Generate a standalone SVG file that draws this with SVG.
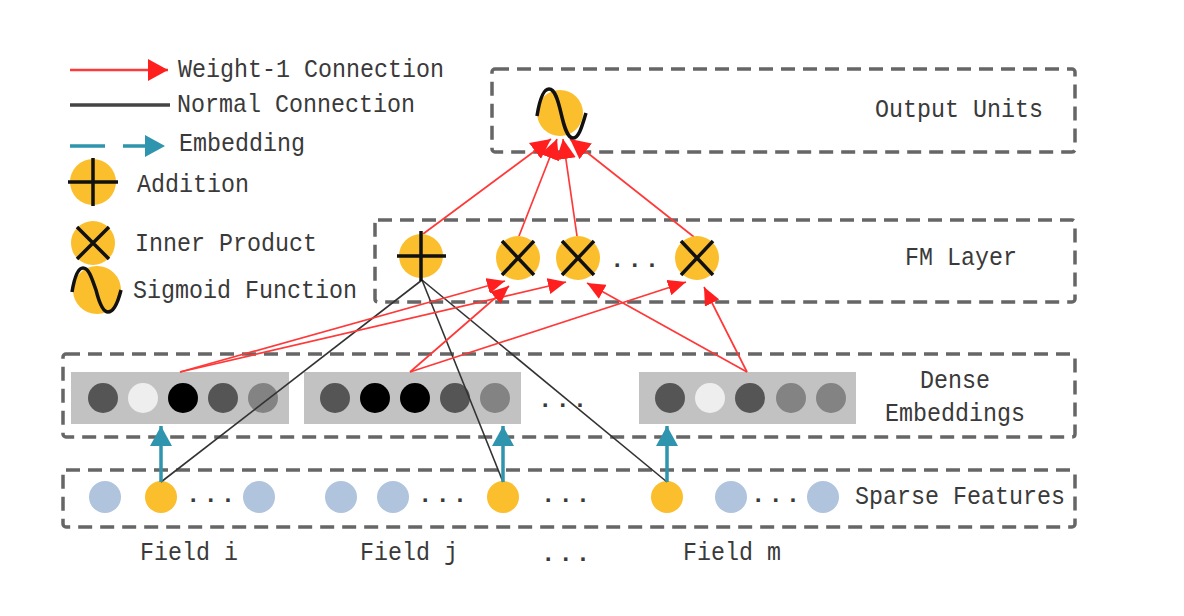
<svg xmlns="http://www.w3.org/2000/svg" width="1184" height="616" viewBox="0 0 1184 616">
<style>
text{font-family:"Liberation Mono","DejaVu Sans Mono",monospace;font-size:25px;fill:#3a3a3a}
.dots{font-weight:bold;letter-spacing:3px;font-size:24px}
.box{fill:none;stroke:#666;stroke-width:3.5;stroke-dasharray:14 8}
.y{fill:#fbbe2c}
.b{fill:#b0c4de}
.mark{stroke:#111;stroke-width:3.5;fill:none}
.red{stroke:#ff3838;stroke-width:1.7;fill:none;marker-end:url(#ar)}
.redo{stroke:#ff3838;stroke-width:1.7;fill:none;marker-end:url(#arb)}
.blk{stroke:#333;stroke-width:1.6;fill:none}
.teal{stroke:#2f94ad;stroke-width:3.5;fill:none;marker-end:url(#at)}
.emb{fill:#c2c2c2}
</style>
<defs>
<marker id="ar" viewBox="0 0 18 16" refX="18" refY="8" markerWidth="18" markerHeight="16" markerUnits="userSpaceOnUse" orient="auto"><path d="M0,0 L18,8 L0,16 Z" fill="#ff1f1f"/></marker>
<marker id="arb" viewBox="0 0 20 20" refX="20" refY="10" markerWidth="20" markerHeight="20" markerUnits="userSpaceOnUse" orient="auto"><path d="M0,0 L20,10 L0,20 Z" fill="#ff1f1f"/></marker>
<marker id="arl" viewBox="0 0 20 22" refX="20" refY="11" markerWidth="20" markerHeight="22" markerUnits="userSpaceOnUse" orient="auto"><path d="M0,0 L20,11 L0,22 Z" fill="#ff1f1f"/></marker>
<marker id="at" viewBox="0 0 20 22" refX="20" refY="11" markerWidth="20" markerHeight="22" markerUnits="userSpaceOnUse" orient="auto"><path d="M0,0 L20,11 L0,22 Z" fill="#2f94ad"/></marker>
</defs>
<rect width="1184" height="616" fill="#fff"/>

<g id="legend">
<line x1="70" y1="70" x2="168" y2="70" stroke="#ff3838" stroke-width="2.5" marker-end="url(#arl)"/>
<text x="178" y="77" textLength="266" lengthAdjust="spacingAndGlyphs">Weight-1 Connection</text>
<line x1="70" y1="105" x2="170" y2="105" stroke="#444" stroke-width="3.5"/>
<text x="177" y="112" textLength="238" lengthAdjust="spacingAndGlyphs">Normal Connection</text>
<line x1="70" y1="146" x2="165" y2="146" stroke="#2f94ad" stroke-width="3.5" stroke-dasharray="35 18" marker-end="url(#at)"/>
<text x="179" y="151" textLength="126" lengthAdjust="spacingAndGlyphs">Embedding</text>
<circle class="y" cx="93" cy="182" r="23"/>
<path class="mark" d="M68,182 H118 M93,158 V206"/>
<text x="137" y="192" textLength="112" lengthAdjust="spacingAndGlyphs">Addition</text>
<circle class="y" cx="93" cy="243" r="22"/>
<path class="mark" d="M77,227 L109,259 M109,227 L77,259"/>
<text x="135" y="251" textLength="182" lengthAdjust="spacingAndGlyphs">Inner Product</text>
<circle class="y" cx="97" cy="290" r="24"/>
<path class="mark" d="M72,292 C75,274 79,268 83,268 C89,268 92,279 96,290 C99,302 103,312 108,312 C114,312 118,302 121,290"/>
<text x="133" y="298" textLength="224" lengthAdjust="spacingAndGlyphs">Sigmoid Function</text>
</g>

<g id="output-units">
<rect class="box" x="492" y="69" width="583" height="83" rx="3"/>
<text x="875" y="117" textLength="168" lengthAdjust="spacingAndGlyphs">Output Units</text>
</g>
<g id="fm-layer">
<rect class="box" x="375" y="220" width="700" height="82" rx="3"/>
<text x="905" y="265" textLength="112" lengthAdjust="spacingAndGlyphs">FM Layer</text>
<text class="dots" x="610" y="267">...</text>
</g>
<g id="dense-embeddings">
<rect class="box" x="63" y="354" width="1012" height="83" rx="3"/>
<text x="920" y="388" textLength="70" lengthAdjust="spacingAndGlyphs">Dense</text>
<text x="885" y="421" textLength="140" lengthAdjust="spacingAndGlyphs">Embeddings</text>
<text class="dots" x="538" y="407">...</text>
</g>
<g id="sparse-features">
<rect class="box" x="63" y="470" width="1012" height="57" rx="3"/>
<text x="855" y="504" textLength="210" lengthAdjust="spacingAndGlyphs">Sparse Features</text>
<text class="dots" x="186" y="502">...</text>
<text class="dots" x="418" y="502">...</text>
<text class="dots" x="541" y="502">...</text>
<text class="dots" x="751" y="502">...</text>
</g>

<g id="emb-i">
<rect class="emb" x="71" y="372" width="218" height="52"/>
<circle cx="103" cy="398" r="15" fill="#555"/>
<circle cx="143" cy="398" r="15" fill="#eee"/>
<circle cx="183" cy="398" r="15" fill="#000"/>
<circle cx="223" cy="398" r="15" fill="#555"/>
<circle cx="263" cy="398" r="15" fill="#838383"/>
</g>
<g id="emb-j">
<rect class="emb" x="304" y="372" width="217" height="52"/>
<circle cx="335" cy="398" r="15" fill="#555"/>
<circle cx="375" cy="398" r="15" fill="#000"/>
<circle cx="415" cy="398" r="15" fill="#000"/>
<circle cx="455" cy="398" r="15" fill="#555"/>
<circle cx="495" cy="398" r="15" fill="#838383"/>
</g>
<g id="emb-m">
<rect class="emb" x="639" y="372" width="217" height="52"/>
<circle cx="670" cy="398" r="15" fill="#555"/>
<circle cx="710" cy="398" r="15" fill="#eee"/>
<circle cx="750" cy="398" r="15" fill="#555"/>
<circle cx="791" cy="398" r="15" fill="#838383"/>
<circle cx="831" cy="398" r="15" fill="#838383"/>
</g>

<g id="field-i">
<circle class="b" cx="105" cy="497" r="16"/>
<circle class="y" cx="161" cy="497" r="16"/>
<circle class="b" cx="259" cy="497" r="16"/>
<text x="140" y="560" textLength="98" lengthAdjust="spacingAndGlyphs">Field i</text>
</g>
<g id="field-j">
<circle class="b" cx="341" cy="497" r="16"/>
<circle class="b" cx="393" cy="497" r="16"/>
<circle class="y" cx="503" cy="497" r="16"/>
<text x="360" y="560" textLength="98" lengthAdjust="spacingAndGlyphs">Field j</text>
</g>
<g id="field-etc">
<text class="dots" x="541" y="561">...</text>
</g>
<g id="field-m">
<circle class="y" cx="667" cy="497" r="16"/>
<circle class="b" cx="731" cy="497" r="16"/>
<circle class="b" cx="823" cy="497" r="16"/>
<text x="683" y="560" textLength="98" lengthAdjust="spacingAndGlyphs">Field m</text>
</g>

<g id="connectors">
<path class="blk" d="M422,280 L161,482"/>
<path class="blk" d="M422,280 L503,482"/>
<path class="blk" d="M422,280 L667,482"/>
<path class="red" d="M180,372 L505,281"/>
<path class="red" d="M180,372 L566,282"/>
<path class="red" d="M410,372 L509,286"/>
<path class="red" d="M410,372 L686,282"/>
<path class="red" d="M747,372 L587,283"/>
<path class="red" d="M747,372 L704,287"/>
<path class="redo" d="M423,234 L551,139"/>
<path class="redo" d="M519,236 L557,139"/>
<path class="redo" d="M577,236 L563,139"/>
<path class="redo" d="M694,237 L570,139"/>
<path class="teal" d="M161,482 L161,426"/>
<path class="teal" d="M503,482 L503,426"/>
<path class="teal" d="M667,482 L667,426"/>
</g>

<g id="node-output">
<circle class="y" cx="560" cy="113" r="23"/>
<path class="mark" d="M537,116 C540,97 544,89 549,89 C555,89 558,100 561,113 C564,126 567,138 573,138 C579,138 582,126 586,113"/>
</g>
<g id="node-add">
<circle class="y" cx="421" cy="256" r="22"/>
<path class="mark" d="M397,256 H446 M421,231 V281"/>
</g>
<g id="node-ip1">
<circle class="y" cx="518" cy="258" r="22"/>
<path class="mark" d="M502,241 L534,275 M534,241 L502,275"/>
</g>
<g id="node-ip2">
<circle class="y" cx="578" cy="258" r="22"/>
<path class="mark" d="M562,241 L594,275 M594,241 L562,275"/>
</g>
<g id="node-ip3">
<circle class="y" cx="697" cy="258" r="22"/>
<path class="mark" d="M681,241 L713,275 M713,241 L681,275"/>
</g>
</svg>
